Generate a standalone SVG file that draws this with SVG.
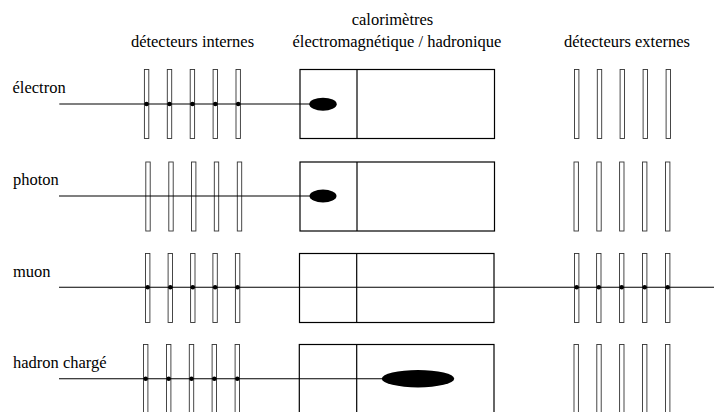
<svg xmlns="http://www.w3.org/2000/svg" width="714" height="412" viewBox="0 0 714 412">
<defs>
<rect id="d" x="-2.2" y="0" width="4.4" height="69" fill="#fff" stroke="#333" stroke-width="0.9"/>
</defs>
<rect width="714" height="412" fill="#fff"/>
<g id="headers" font-size="16.5" fill="#000" text-anchor="middle">
<text font-family="'Liberation Serif'" x="192.5" y="47.3">détecteurs internes</text>
<text font-family="'Liberation Serif'" x="392.5" y="25">calorimètres</text>
<text font-family="'Liberation Serif'" x="397" y="47.3">électromagnétique / hadronique</text>
<text font-family="'Liberation Serif'" x="627" y="47.3">détecteurs externes</text>
</g>
<g id="labels" font-size="16.5" fill="#000">
<text font-family="'Liberation Serif'" x="12.5" y="93">électron</text>
<text font-family="'Liberation Serif'" x="13" y="185">photon</text>
<text font-family="'Liberation Serif'" x="13" y="276.5">muon</text>
<text font-family="'Liberation Serif'" x="13" y="367.7">hadron chargé</text>
</g>
<g id="electron-inner">
<use href="#d" x="146.6" y="69.5"/><use href="#d" x="169.5" y="69.5"/><use href="#d" x="192.4" y="69.5"/><use href="#d" x="215.3" y="69.5"/><use href="#d" x="238.2" y="69.5"/>
</g>
<g id="photon-inner">
<use href="#d" x="148" y="162"/><use href="#d" x="171" y="162"/><use href="#d" x="193.7" y="162"/><use href="#d" x="216.5" y="162"/><use href="#d" x="239.5" y="162"/>
</g>
<g id="muon-inner">
<use href="#d" x="147.7" y="253.5"/><use href="#d" x="170.3" y="253.5"/><use href="#d" x="192.8" y="253.5"/><use href="#d" x="215.1" y="253.5"/><use href="#d" x="237.6" y="253.5"/>
</g>
<g id="hadron-inner">
<use href="#d" x="145.7" y="344.5"/><use href="#d" x="168.7" y="344.5"/><use href="#d" x="191.5" y="344.5"/><use href="#d" x="214.3" y="344.5"/><use href="#d" x="237.3" y="344.5"/>
</g>
<g id="electron-outer">
<use href="#d" x="576.7" y="69.5"/><use href="#d" x="599.5" y="69.5"/><use href="#d" x="622.3" y="69.5"/><use href="#d" x="645.3" y="69.5"/><use href="#d" x="668.3" y="69.5"/>
</g>
<g id="photon-outer">
<use href="#d" x="576.2" y="162"/><use href="#d" x="599" y="162"/><use href="#d" x="621.8" y="162"/><use href="#d" x="644.7" y="162"/><use href="#d" x="667.7" y="162"/>
</g>
<g id="muon-outer">
<use href="#d" x="576.7" y="253.5"/><use href="#d" x="598.8" y="253.5"/><use href="#d" x="621.7" y="253.5"/><use href="#d" x="644.7" y="253.5"/><use href="#d" x="667.7" y="253.5"/>
</g>
<g id="hadron-outer">
<use href="#d" x="576.2" y="344.5"/><use href="#d" x="599" y="344.5"/><use href="#d" x="621.8" y="344.5"/><use href="#d" x="644.7" y="344.5"/><use href="#d" x="667.7" y="344.5"/>
</g>
<g id="electron-calo" fill="#fff" stroke="#000" stroke-width="1.2">
<rect x="300" y="69.5" width="194.5" height="69"/><line x1="357" y1="69.5" x2="357" y2="138.5"/>
</g>
<g id="photon-calo" fill="#fff" stroke="#000" stroke-width="1.2">
<rect x="300" y="162" width="194.5" height="69"/><line x1="357" y1="162" x2="357" y2="231"/>
</g>
<g id="muon-calo" fill="#fff" stroke="#000" stroke-width="1.2">
<rect x="299.5" y="253.5" width="194.5" height="69"/><line x1="356.7" y1="253.5" x2="356.7" y2="322.5"/>
</g>
<g id="hadron-calo" fill="#fff" stroke="#000" stroke-width="1.2">
<rect x="299.3" y="344.5" width="194.7" height="69"/><line x1="356.7" y1="344.5" x2="356.7" y2="413.5"/>
</g>
<g id="connectors" stroke="#000" stroke-width="1.1" fill="none">
<line x1="59.3" y1="104" x2="310" y2="104"/>
<line x1="59" y1="196" x2="310" y2="196"/>
<line x1="59" y1="287.2" x2="714" y2="287.2"/>
<line x1="59" y1="378.8" x2="383" y2="378.8"/>
</g>
<g id="hits" fill="#000">
<circle cx="146.6" cy="104" r="2.2"/><circle cx="169.5" cy="104" r="2.2"/><circle cx="192.4" cy="104" r="2.2"/><circle cx="215.3" cy="104" r="2.2"/><circle cx="238.2" cy="104" r="2.2"/>
<circle cx="147.7" cy="287.2" r="2.2"/><circle cx="170.3" cy="287.2" r="2.2"/><circle cx="192.8" cy="287.2" r="2.2"/><circle cx="215.1" cy="287.2" r="2.2"/><circle cx="237.6" cy="287.2" r="2.2"/>
<circle cx="576.7" cy="287.2" r="2.2"/><circle cx="598.8" cy="287.2" r="2.2"/><circle cx="621.7" cy="287.2" r="2.2"/><circle cx="644.7" cy="287.2" r="2.2"/><circle cx="667.7" cy="287.2" r="2.2"/>
<circle cx="145.7" cy="378.8" r="2.2"/><circle cx="168.7" cy="378.8" r="2.2"/><circle cx="191.5" cy="378.8" r="2.2"/><circle cx="214.3" cy="378.8" r="2.2"/><circle cx="237.3" cy="378.8" r="2.2"/>
</g>
<g id="showers" fill="#000">
<ellipse cx="323" cy="104.2" rx="13.7" ry="6.5"/>
<ellipse cx="323" cy="196" rx="13.5" ry="6.5"/>
<ellipse cx="418" cy="378.7" rx="36.2" ry="8.7"/>
</g>
</svg>
